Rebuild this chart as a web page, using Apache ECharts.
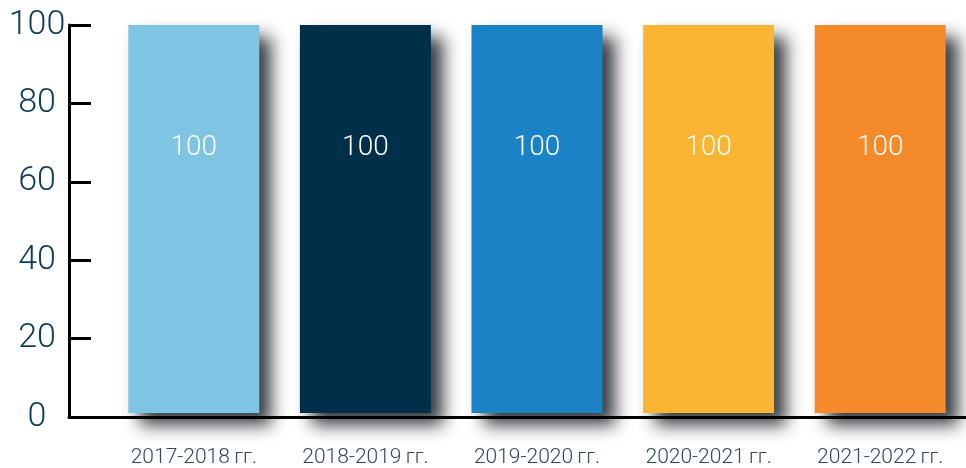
<!DOCTYPE html>
<html>
<head>
<meta charset="UTF-8">
<title>chart</title>
<script type="text/javascript" src="https://cdn.jsdelivr.net/npm/echarts@6/dist/echarts.min.js"></script>
</head>
<body style="margin:0">
	<div id="show" style="width:966px;height:468px"></div>
	<script type="text/javascript">
		var categories=['2017-2018\u2009гг.','2018-2019\u2009гг.','2019-2020\u2009гг.','2020-2021\u2009гг.','2021-2022\u2009гг.'];
		var values=[100,100,100,100,100];
		var colors=['#7fc4e2','#003049','#1b82c6','#fbb532','#f58a2a'];
		var yTicks=[0,20,40,60,80,100];

		var barData=[];
		for(var i=0;i<values.length;i++){
			barData.push({value:values[i],itemStyle:{color:colors[i]}});
		}

		var myCharts=echarts.init(document.getElementById('show'));
		myCharts.setOption({
			animation:false,
			grid:[
				{left:69,right:0,top:25,bottom:51},
				{left:108,right:-2,top:25,bottom:51}
			],
			xAxis:[{
				gridIndex:0,
				type:'value',
				min:0,max:1,
				z:5,
				axisLine:{show:true,lineStyle:{color:'#000',width:3}},
				axisTick:{show:false},
				axisLabel:{show:false},
				splitLine:{show:false}
			},{
				gridIndex:1,
				type:'category',
				data:categories,
				axisLine:{show:false},
				axisTick:{show:false},
				axisLabel:{
					margin:34,
					fontSize:21,
					fontFamily:'Roboto',
					fontWeight:300,
					color:'#2c4a5c'
				}
			}],
			yAxis:[{
				gridIndex:0,
				type:'value',
				min:yTicks[0],max:yTicks[yTicks.length-1],interval:20,
				z:5,
				axisLine:{show:true,lineStyle:{color:'#000',width:3}},
				axisTick:{show:true,inside:true,length:22,lineStyle:{color:'#000',width:3}},
				axisLabel:{
					margin:32,
					align:'center',
					fontSize:34,
					fontFamily:'Roboto',
					fontWeight:300,
					color:'#0d3c57'
				},
				splitLine:{show:false}
			},{
				gridIndex:1,
				type:'value',
				min:0,max:100,
				show:false
			}],
			series:[{
				type:'bar',
				xAxisIndex:1,
				yAxisIndex:1,
				barWidth:131,
				data:barData,
				itemStyle:{
					shadowColor:'rgba(45,50,56,0.95)',
					shadowBlur:16,
					shadowOffsetX:12,
					shadowOffsetY:12
				},
				label:{
					show:true,
					position:'insideTop',
					distance:109,
					fontSize:28,
					fontFamily:'Roboto',
					fontWeight:300,
					color:'#fff',
					textShadowBlur:0
				}
			}]
		});
	</script>
</body>
</html>
